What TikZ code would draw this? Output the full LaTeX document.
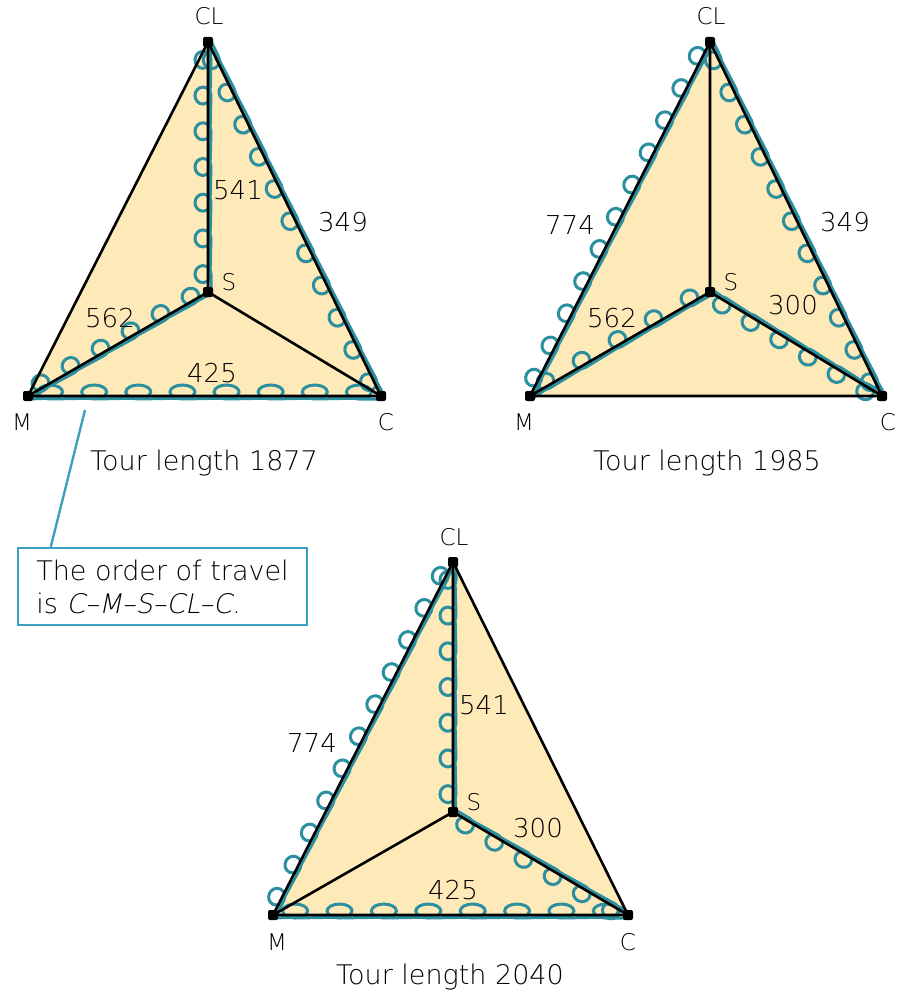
\documentclass[tikz,border=0pt]{standalone}
\usepackage{fontspec}
\usetikzlibrary{calc}
\IfFontExistsTF{DejaVu Sans ExtraLight}{%
  \setmainfont{DejaVu Sans ExtraLight}%
  \newfontfamily\slfont{DejaVu Sans ExtraLight}[FakeSlant=0.2]%
}{%
  \setmainfont{DejaVu Sans}%
  \newfontfamily\slfont{DejaVu Sans}[FakeSlant=0.2]%
}
\definecolor{fillc}{HTML}{FDEAB8}
\definecolor{loopc}{HTML}{2B8FA0}
\definecolor{boxc}{HTML}{3AA2BE}
\tikzset{
  tri/.style={fill=fillc, draw=none},
  segline/.style={draw=black, line width=2.6pt},
  tourline/.style={draw=loopc, line width=3pt},
  vertex/.style={rectangle, rounded corners=2pt, fill=black, inner sep=0pt, minimum size=10pt},
  num/.style={font=\fontsize{26}{30}\selectfont, inner sep=0pt},
  vlab/.style={font=\fontsize{23}{27}\selectfont, inner sep=0pt},
  tourcap/.style={font=\fontsize{27}{31}\selectfont, inner sep=0pt},
}
% #1 from, #2 to, #3 side (+1 / -1), #4 loops, #5 along radius, #6 across radius
\newcommand\looped[6]{%
  \path (#1); \pgfgetlastxy{\lax}{\lay}%
  \path (#2); \pgfgetlastxy{\lbx}{\lby}%
  \pgfmathsetmacro\ldx{\lbx-\lax}%
  \pgfmathsetmacro\ldy{\lby-\lay}%
  \pgfmathsetmacro\llen{veclen(\ldx,\ldy)}%
  \pgfmathsetmacro\lang{atan2(\ldy,\ldx)}%
  \pgfmathsetmacro\lp{\llen/#4}%
  \begin{scope}[shift={(#1)}, rotate=\lang, yscale=#3]
    \draw[tourline] (0,-3) \foreach \k in {1,...,#4}{ -- ({(\k-0.5)*\lp},-3)
      arc[start angle=270, end angle=600, x radius=#5, y radius=#6] } -- (\llen,-3);
  \end{scope}}
\begin{document}
\begin{tikzpicture}[x=1pt,y=-1pt]
\useasboundingbox (0,0) rectangle (898,992);
% ---------- triangle 1 ----------
\coordinate (aCL) at (208,42);
\coordinate (aS) at (208,292);
\coordinate (aM) at (28,396);
\coordinate (aC) at (381,396);
\fill[tri] (aM) -- (aCL) -- (aC) -- cycle;
\looped{aC}{aM}{1}{8}{12.5}{7}
\looped{aM}{aS}{-1}{6}{8.5}{8}
\looped{aS}{aCL}{-1}{7}{8.5}{8}
\looped{aCL}{aC}{1}{11}{8.5}{8}
\draw[segline] (aM) -- (aCL) -- (aC) -- cycle;
\draw[segline] (aS) -- (aCL) (aS) -- (aM) (aS) -- (aC);
\foreach \v in {aCL,aS,aM,aC} \node[vertex] (d\v) at (\v) {};
\node[vlab] (lCLa) at (209,16) {CL};
\node[vlab] (lSa) at (229,282) {S};
\node[vlab] (lMa) at (22,422) {M};
\node[vlab] (lCa) at (386,422) {C};
\node[num] (n541a) at (238,190) {541};
\node[num] (n349a) at (343,222) {349};
\node[num] (n562a) at (110,318) {562};
\node[num] (n425a) at (212,373) {425};
\node[tourcap] (ta) at (204,463) {Tour length 1877};
% callout
\node[draw=boxc, line width=2.4pt, minimum width=289pt, minimum height=77pt,
      font=\fontsize{27}{33}\selectfont, align=left, inner sep=0pt] (box) at (162.5,586.5)
  {The order of travel\\is {\slfont C–M–S–CL–C.}};
\coordinate (lead) at (85,410);
\draw[boxc, line width=2.4pt] (lead) -- ($(box.north west)+(34,0)$);
% ---------- triangle 2 ----------
\coordinate (bCL) at (710,42);
\coordinate (bS) at (710,292);
\coordinate (bM) at (530,396);
\coordinate (bC) at (882,396);
\fill[tri] (bM) -- (bCL) -- (bC) -- cycle;
\looped{bM}{bCL}{-1}{11}{8.5}{8}
\looped{bCL}{bC}{1}{11}{8.5}{8}
\looped{bC}{bS}{-1}{6}{8.5}{8}
\looped{bS}{bM}{1}{5}{8.5}{8}
\draw[segline] (bM) -- (bCL) -- (bC) -- cycle;
\draw[segline] (bS) -- (bCL) (bS) -- (bM) (bS) -- (bC);
\foreach \v in {bCL,bS,bM,bC} \node[vertex] (d\v) at (\v) {};
\node[vlab] (lCLb) at (711,16) {CL};
\node[vlab] (lSb) at (731,282) {S};
\node[vlab] (lMb) at (524,422) {M};
\node[vlab] (lCb) at (888,422) {C};
\node[num] (n774b) at (570,225) {774};
\node[num] (n349b) at (845,222) {349};
\node[num] (n562b) at (612,318) {562};
\node[num] (n300b) at (793,305) {300};
\node[tourcap] (tb) at (707,463) {Tour length 1985};
% ---------- triangle 3 ----------
\coordinate (cCL) at (453,562);
\coordinate (cS) at (453,812);
\coordinate (cM) at (273,915);
\coordinate (cC) at (628,915);
\fill[tri] (cM) -- (cCL) -- (cC) -- cycle;
\looped{cM}{cCL}{-1}{11}{8.5}{8}
\looped{cCL}{cS}{1}{7}{8.5}{8}
\looped{cS}{cC}{1}{6}{8.5}{8}
\looped{cC}{cM}{1}{8}{12.5}{7}
\draw[segline] (cM) -- (cCL) -- (cC) -- cycle;
\draw[segline] (cS) -- (cCL) (cS) -- (cM) (cS) -- (cC);
\foreach \v in {cCL,cS,cM,cC} \node[vertex] (d\v) at (\v) {};
\node[vlab] (lCLc) at (454,537) {CL};
\node[vlab] (lSc) at (474,802) {S};
\node[vlab] (lMc) at (277,942) {M};
\node[vlab] (lCc) at (628,942) {C};
\node[num] (n541c) at (484,705) {541};
\node[num] (n774c) at (312,743) {774};
\node[num] (n300c) at (538,828) {300};
\node[num] (n425c) at (453,890) {425};
\node[tourcap] (tc) at (450,977) {Tour length 2040};
\end{tikzpicture}
\end{document}
